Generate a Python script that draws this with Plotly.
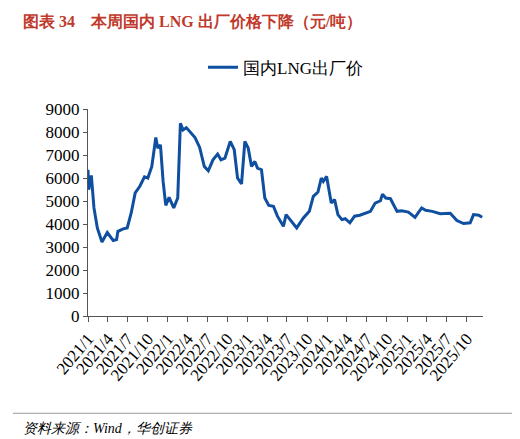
import pandas as pd
import plotly.graph_objects as go

month_offsets = [0,0.1,0.5,0.9,1.4,2.1,2.9,3.8,4.3,4.5,5.3,5.9,6.5,7.1,7.8,8.5,9.0,9.6,10.2,10.5,10.9,11.3,11.7,12.2,12.9,13.5,13.9,14.3,14.8,15.3,16.1,16.8,17.5,18.1,18.8,19.5,20.0,20.6,21.4,22.0,22.5,23.1,23.6,24.1,24.6,25.1,25.5,26.1,26.6,27.2,27.9,28.5,29.4,29.8,30.4,31.4,32.4,33.3,33.9,34.6,35.1,35.4,35.9,36.6,37.1,37.6,38.2,38.7,39.4,40.1,40.9,41.7,42.5,43.2,44.0,44.3,44.8,45.5,46.5,47.2,48.2,49.2,50.2,50.8,51.8,53.0,54.5,55.5,56.5,57.5,58.0,58.8,59.3]
values = [6360,5490,6110,4700,3830,3220,3630,3280,3320,3680,3790,3830,4480,5350,5640,6050,6000,6500,7760,7300,7440,5850,4810,5160,4700,5130,8380,8090,8190,8020,7760,7330,6500,6310,6790,7040,6790,6860,7590,7230,6000,5740,7590,7300,6500,6720,6430,6360,5130,4810,4770,4340,3900,4410,4190,3830,4260,4550,5200,5390,6000,5850,6070,4910,5060,4410,4190,4230,4050,4340,4380,4450,4550,4910,5010,5300,5130,5100,4550,4580,4520,4290,4700,4600,4550,4450,4470,4150,4020,4050,4410,4380,4290]
tick_labels = [f"{y}/{m}" for y in range(2021, 2026) for m in (1, 4, 7, 10)]

start = pd.Timestamp("2021-01-01")
dates = [start + pd.Timedelta(days=o * 30.44) for o in month_offsets]
tick_vals = [pd.Timestamp(t.replace("/", "-") + "-01") for t in tick_labels]

fig = go.Figure(go.Scatter(x=dates, y=values, mode="lines", name="国内LNG出厂价",
                           line=dict(color="#0F4FA0", width=3)))
serif = "Liberation Serif"
fig.update_layout(
    width=520, height=439, plot_bgcolor="white", paper_bgcolor="white",
    margin=dict(l=80, r=45, t=101, b=131),
    font=dict(family=serif, size=16, color="black"),
    showlegend=True,
    legend=dict(orientation="h", x=0.5, xanchor="center", y=1.2, yanchor="middle",
                font=dict(size=17, family=serif)),
    xaxis=dict(range=[start, pd.Timestamp("2025-12-15")], tickvals=tick_vals, ticktext=tick_labels,
               tickangle=-50, showline=True, linecolor="#555", ticks="outside", ticklen=5,
               tickcolor="#555", showgrid=False, tickfont=dict(size=17, family=serif)),
    yaxis=dict(range=[0, 9000], dtick=1000, showline=True, linecolor="#555", ticks="outside",
               ticklen=4, tickcolor="#555", showgrid=False, zeroline=False,
               tickfont=dict(size=17, family=serif)),
    annotations=[
        dict(text="<b>图表 34　本周国内 LNG 出厂价格下降（元/吨）</b>", xref="paper", yref="paper",
             x=-0.17, y=1.42, xanchor="left", yanchor="middle", showarrow=False,
             font=dict(size=16, color="#C0392B", family=serif)),
        dict(text="<i>资料来源：Wind，华创证券</i>", xref="paper", yref="paper",
             x=-0.17, y=-0.545, xanchor="left", yanchor="middle", showarrow=False,
             font=dict(size=14, color="black", family=serif)),
    ],
    shapes=[dict(type="line", xref="paper", yref="paper", x0=-0.19, x1=1.09, y0=-0.47, y1=-0.47,
                 line=dict(color="#999", width=1))],
)
fig.write_html("out.html")
